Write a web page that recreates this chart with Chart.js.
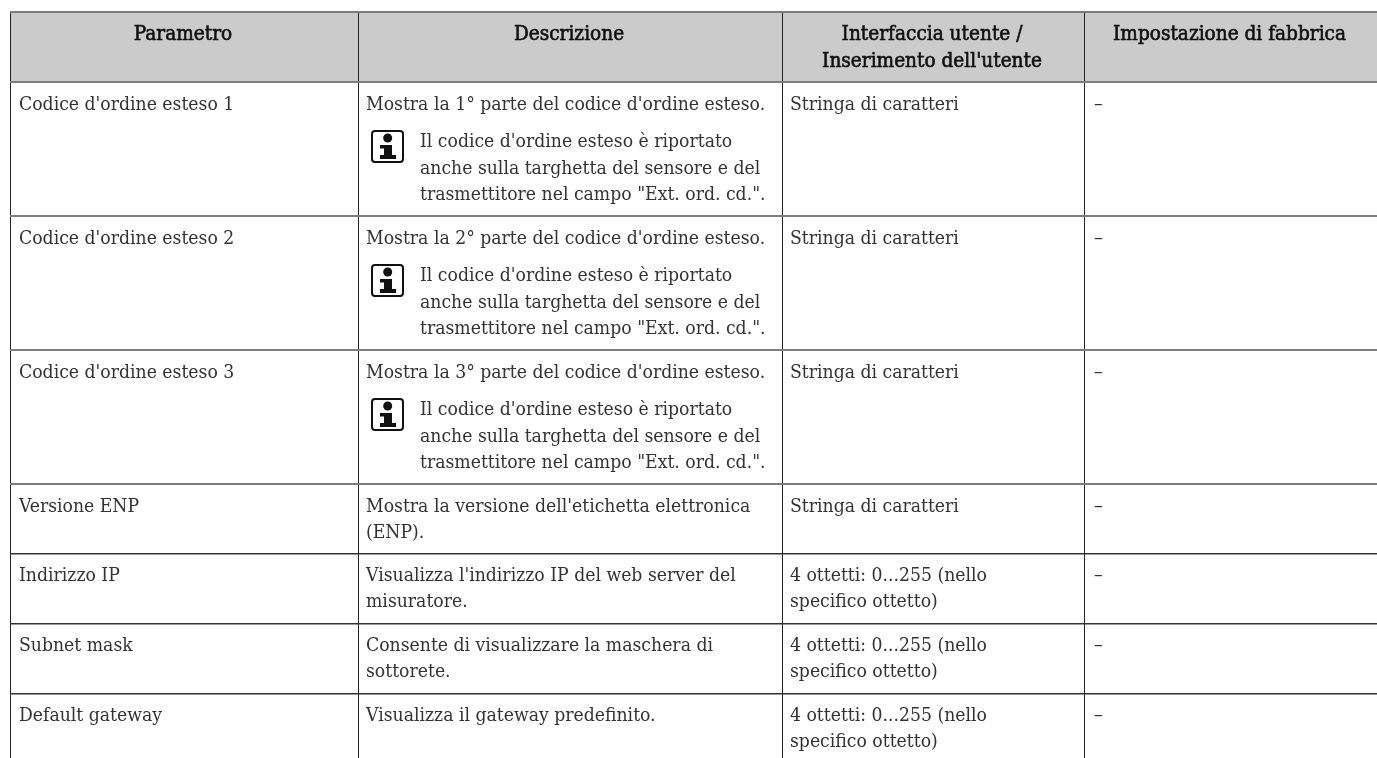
<!DOCTYPE html>
<html>
<head>
<meta charset="utf-8">
<title>Parametri</title>
<script src="https://cdn.jsdelivr.net/npm/chart.js@4/dist/chart.umd.min.js"></script>
<style>
html, body { margin: 0; padding: 0; background: #fff; overflow: hidden; }
canvas { display: block; }
</style>
</head>
<body>
<canvas id="tableChart" width="1377" height="758"></canvas>
<script>
const headers = [['Parametro'], ['Descrizione'], ['Interfaccia utente /', "Inserimento dell'utente"], ['Impostazione di fabbrica']];
const parametri = ["Codice d'ordine esteso 1", "Codice d'ordine esteso 2", "Codice d'ordine esteso 3", 'Versione ENP', 'Indirizzo IP', 'Subnet mask', 'Default gateway'];
const descrizioni = [
    ["Mostra la 1° parte del codice d'ordine esteso."],
    ["Mostra la 2° parte del codice d'ordine esteso."],
    ["Mostra la 3° parte del codice d'ordine esteso."],
    ["Mostra la versione dell'etichetta elettronica", '(ENP).'],
    ["Visualizza l'indirizzo IP del web server del", 'misuratore.'],
    ['Consente di visualizzare la maschera di', 'sottorete.'],
    ['Visualizza il gateway predefinito.']
];
const nota = ["Il codice d'ordine esteso è riportato", 'anche sulla targhetta del sensore e del', 'trasmettitore nel campo "Ext. ord. cd.".'];
const righeConNota = [0, 1, 2];
const interfaccia = [
    ['Stringa di caratteri'],
    ['Stringa di caratteri'],
    ['Stringa di caratteri'],
    ['Stringa di caratteri'],
    ['4 ottetti: 0...255 (nello', 'specifico ottetto)'],
    ['4 ottetti: 0...255 (nello', 'specifico ottetto)'],
    ['4 ottetti: 0...255 (nello', 'specifico ottetto)']
];
const fabbrica = ['–', '–', '–', '–', '–', '–', '–'];

// layout of the table, in page pixels
const colEdges = [10, 358, 782, 1084];
const rowEdges = [12, 82, 216, 350, 484, 553.5, 623.5, 693.5];
const cellX = [19, 366, 790, 1094];
const lineH = 26.7;
const bodyFont = '19.2px "DejaVu Serif Condensed"';
const headFont = '20.6px "DejaVu Serif Condensed"';

function drawLines(ctx, x, y, lines, align, stroke) {
    ctx.textAlign = align;
    lines.forEach((t, i) => {
        ctx.fillText(t, x, y + i * lineH);
        if (stroke) ctx.strokeText(t, x, y + i * lineH);
    });
}

const tableText = {
    id: 'tableText',
    afterDraw(chart) {
        const { ctx, scales } = chart;
        const px = v => scales.x.getPixelForValue(v);
        const py = v => scales.y.getPixelForValue(v);
        ctx.save();
        ctx.textBaseline = 'alphabetic';
        ctx.fillStyle = '#111';
        ctx.strokeStyle = '#111';
        ctx.lineWidth = 0.6;

        ctx.font = headFont;
        headers.forEach((lines, c) => {
            const right = c < 3 ? colEdges[c + 1] : 1377;
            drawLines(ctx, (px(colEdges[c]) + px(right)) / 2 - 1, py(40), lines, 'center', true);
        });

        ctx.font = bodyFont;
        ctx.fillStyle = '#333';
        parametri.forEach((p, r) => {
            const top = rowEdges[r + 1];
            const pad = r < 4 ? 27.5 : 27;
            drawLines(ctx, px(cellX[0]), py(top + pad), [p], 'left');
            drawLines(ctx, px(cellX[1]), py(top + pad), descrizioni[r], 'left');
            drawLines(ctx, px(cellX[2]), py(top + pad), interfaccia[r], 'left');
            drawLines(ctx, px(cellX[3]), py(top + pad), [fabbrica[r]], 'left');
            if (righeConNota.includes(r)) {
                drawLines(ctx, px(420), py(top + 65), nota, 'left');
                drawIcon(ctx, px(372), py(top + 49));
            }
        });
        ctx.restore();
    }
};

function drawIcon(ctx, x, y) {
    ctx.save();
    ctx.strokeStyle = '#111';
    ctx.fillStyle = '#111';
    ctx.lineWidth = 2;
    ctx.beginPath();
    ctx.roundRect(x, y, 31, 31, 3);
    ctx.stroke();
    ctx.beginPath();
    ctx.arc(x + 15.7, y + 7, 4.5, 0, Math.PI * 2);
    ctx.fill();
    ctx.fillRect(x + 8, y + 14, 5, 3.5);
    ctx.fillRect(x + 12, y + 14, 8, 11);
    ctx.fillRect(x + 8, y + 24, 16, 4);
    ctx.restore();
}

new Chart(document.getElementById('tableChart'), {
    type: 'scatter',
    data: {
        datasets: [{
            type: 'line',
            data: [{ x: 10, y: rowEdges[0] }, { x: 1377, y: rowEdges[0] }],
            fill: { value: rowEdges[1] },
            backgroundColor: '#cbcbcb',
            borderWidth: 0,
            pointRadius: 0
        }]
    },
    options: {
        responsive: false,
        animation: false,
        layout: { padding: { left: 10, top: 12 } },
        plugins: { legend: { display: false }, title: { display: false }, tooltip: { enabled: false } },
        scales: {
            x: {
                type: 'linear',
                min: 10,
                max: 1377,
                afterBuildTicks: axis => { axis.ticks = colEdges.map(value => ({ value })); },
                ticks: { display: false },
                border: { display: false },
                grid: { z: 1, drawTicks: false, color: '#222', lineWidth: 1 }
            },
            y: {
                type: 'linear',
                reverse: true,
                min: 12,
                max: 758,
                afterBuildTicks: axis => { axis.ticks = rowEdges.map(value => ({ value })); },
                ticks: { display: false },
                border: { display: false },
                grid: {
                    z: 1,
                    drawTicks: false,
                    color: ctx => ctx.tick.value < 500 ? '#7d7d7d' : '#333',
                    lineWidth: ctx => ctx.tick.value < 500 ? 2 : 1.4
                }
            }
        }
    },
    plugins: [tableText]
});
</script>
</body>
</html>
